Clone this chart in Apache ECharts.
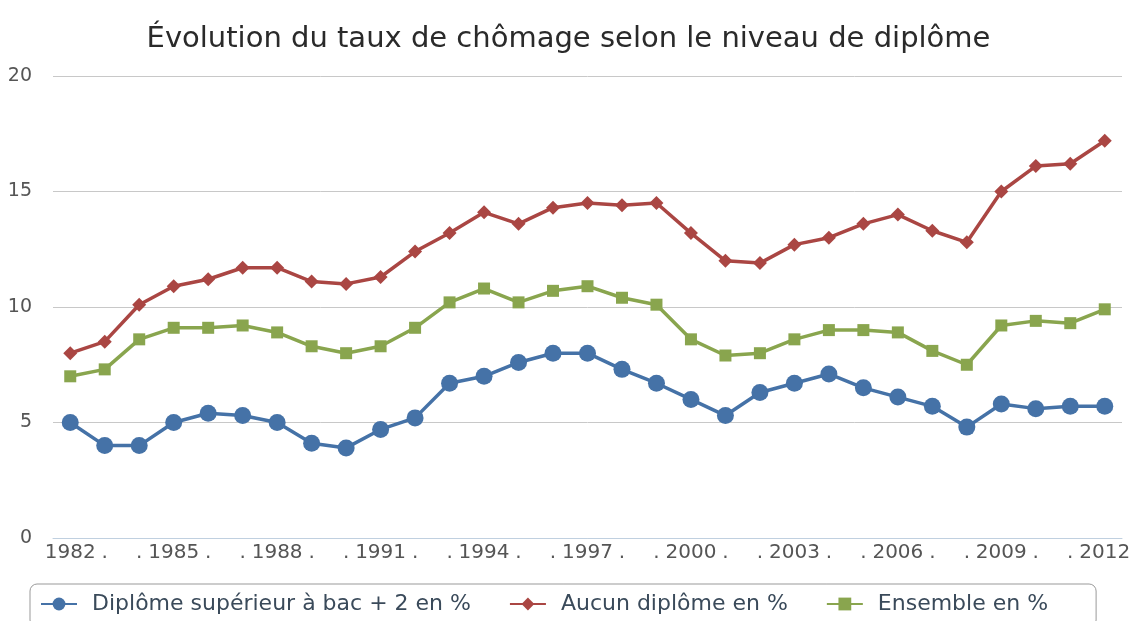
<!DOCTYPE html>
<html>
<head>
<meta charset="utf-8">
<script src="https://cdn.jsdelivr.net/npm/echarts@6/dist/echarts.min.js"></script>
<style>
  html, body { margin: 0; padding: 0; background: #fff; }
  #chart { width: 1137px; height: 621px; }
</style>
</head>
<body>
<div id="chart"></div>
<script>
// Years on the x axis (only every third one gets a printed label)
const years = [
  '1982', '1983', '1984', '1985', '1986', '1987', '1988', '1989', '1990', '1991',
  '1992', '1993', '1994', '1995', '1996', '1997', '1998', '1999', '2000', '2001',
  '2002', '2003', '2004', '2005', '2006', '2007', '2008', '2009', '2010', '2011', '2012'
];

// Unemployment rate in %
const superieurBac2 = [
  5.0, 4.0, 4.0, 5.0, 5.4, 5.3, 5.0, 4.1, 3.9, 4.7,
  5.2, 6.7, 7.0, 7.6, 8.0, 8.0, 7.3, 6.7, 6.0, 5.3,
  6.3, 6.7, 7.1, 6.5, 6.1, 5.7, 4.8, 5.8, 5.6, 5.7, 5.7
];
const aucunDiplome = [
  8.0, 8.5, 10.1, 10.9, 11.2, 11.7, 11.7, 11.1, 11.0, 11.3,
  12.4, 13.2, 14.1, 13.6, 14.3, 14.5, 14.4, 14.5, 13.2, 12.0,
  11.9, 12.7, 13.0, 13.6, 14.0, 13.3, 12.8, 15.0, 16.1, 16.2, 17.2
];
const ensemble = [
  7.0, 7.3, 8.6, 9.1, 9.1, 9.2, 8.9, 8.3, 8.0, 8.3,
  9.1, 10.2, 10.8, 10.2, 10.7, 10.9, 10.4, 10.1, 8.6, 7.9,
  8.0, 8.6, 9.0, 9.0, 8.9, 8.1, 7.5, 9.2, 9.4, 9.3, 9.9
];

const chart = echarts.init(document.getElementById('chart'));
const font = 'DejaVu Sans';

const option = {
  animation: false,
  title: {
    text: 'Évolution du taux de chômage selon le niveau de diplôme',
    left: 'center',
    top: 20,
    textStyle: { fontFamily: font, fontSize: 29, fontWeight: 'normal', color: '#2a2a2a' }
  },
  legend: {
    left: 30,
    top: 584,
    padding: [9, 48, 12, 10],
    itemGap: 38,
    itemWidth: 36,
    itemHeight: 16,
    borderColor: '#999',
    borderWidth: 1,
    borderRadius: 7,
    textStyle: { fontFamily: font, fontSize: 22, color: '#3a4a5a', padding: [0, 0, 0, 10] },
    data: ['Diplôme supérieur à bac + 2 en %', 'Aucun diplôme en %', 'Ensemble en %']
  },
  grid: { left: 53, right: 15, top: 76, bottom: 83, containLabel: false },
  xAxis: {
    type: 'category',
    data: years,
    boundaryGap: true,
    axisLine: { lineStyle: { color: '#C0D0E0', width: 1 } },
    axisTick: { interval: 0, length: 7, lineStyle: { color: '#C0D0E0' } },
    axisLabel: {
      interval: 0,
      margin: 5,
      fontFamily: font,
      fontSize: 20,
      color: '#555',
      formatter: (v, i) => (i % 3 === 0 ? v : '.')
    }
  },
  yAxis: {
    type: 'value',
    min: 0,
    max: 20,
    interval: 5,
    axisLine: { show: false },
    axisTick: { show: false },
    axisLabel: { margin: 21, fontFamily: font, fontSize: 19, color: '#555' },
    splitLine: { lineStyle: { color: '#C8C8C8', width: 1 } }
  },
  series: [
    {
      name: 'Diplôme supérieur à bac + 2 en %',
      type: 'line',
      data: superieurBac2,
      symbol: 'circle',
      symbolSize: 17,
      color: '#4572A7',
      lineStyle: { width: 3.5 }
    },
    {
      name: 'Aucun diplôme en %',
      type: 'line',
      data: aucunDiplome,
      symbol: 'diamond',
      symbolSize: 14,
      color: '#AA4643',
      lineStyle: { width: 3.5 }
    },
    {
      name: 'Ensemble en %',
      type: 'line',
      data: ensemble,
      symbol: 'rect',
      symbolSize: 12,
      color: '#89A54E',
      lineStyle: { width: 3.5 }
    }
  ]
};

chart.setOption(option);
window.addEventListener('resize', () => chart.resize());
</script>
</body>
</html>
